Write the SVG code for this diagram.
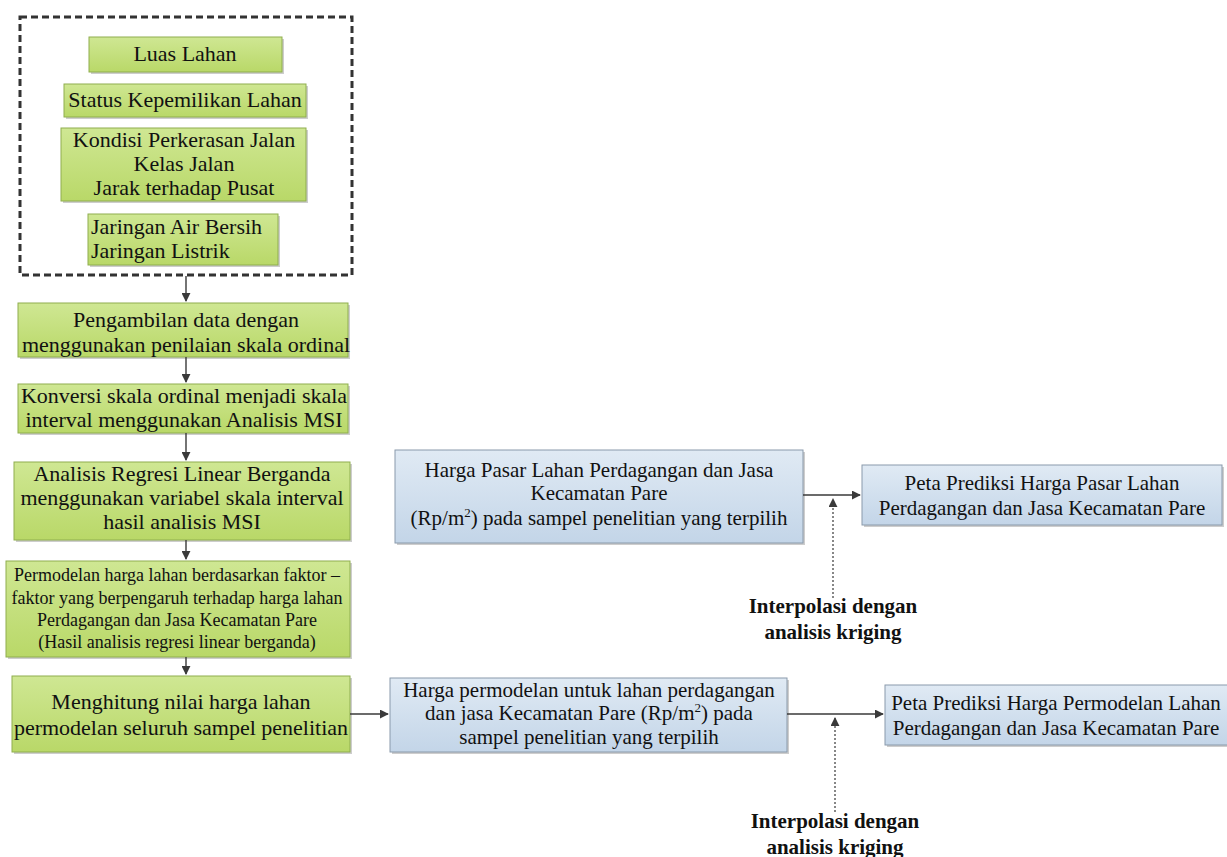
<svg xmlns="http://www.w3.org/2000/svg" width="1227" height="857" viewBox="0 0 1227 857">
<defs>
<linearGradient id="gG" x1="0" y1="0" x2="0" y2="1">
<stop offset="0" stop-color="#cfe793"/>
<stop offset="1" stop-color="#b9d868"/>
</linearGradient>
<linearGradient id="gB" x1="0" y1="0" x2="0" y2="1">
<stop offset="0" stop-color="#e0eaf4"/>
<stop offset="1" stop-color="#c3d5e8"/>
</linearGradient>
<marker id="ah" viewBox="0 0 10 10" refX="9" refY="5" markerWidth="9" markerHeight="9" markerUnits="userSpaceOnUse" orient="auto">
<path d="M0,0 L10,5 L0,10 z" fill="#3a3a3a"/>
</marker>
<style>
.g{fill:url(#gG);stroke:#8fae4f;stroke-width:1}
.b{fill:url(#gB);stroke:#8a9aab;stroke-width:1}
.sh{fill:#b8b8b8;opacity:0.7}
.t{font-family:"Liberation Serif","Times New Roman",serif;fill:#111;text-anchor:middle}
.tl{font-family:"Liberation Serif","Times New Roman",serif;fill:#111;text-anchor:start}
.bold{font-family:"Liberation Serif","Times New Roman",serif;font-weight:bold;fill:#111;text-anchor:middle;font-size:21px}
.c{stroke:#3a3a3a;stroke-width:1.4;fill:none}
.d{stroke:#555;stroke-width:1.4;fill:none;stroke-dasharray:2 2}
</style>
</defs>
<rect width="1227" height="857" fill="#ffffff"/>

<g id="factors">
<rect x="20" y="17" width="332" height="258" fill="none" stroke="#333" stroke-width="3" stroke-dasharray="7 4"/>
</g>

<g id="n-luas">
<rect class="sh" x="91" y="39" width="193" height="35"/>
<rect class="g" x="89" y="37" width="193" height="35"/>
<text class="t" x="185" y="61" font-size="22">Luas Lahan</text>
</g>
<g id="n-status">
<rect class="sh" x="66" y="86" width="242" height="33"/>
<rect class="g" x="64" y="84" width="242" height="33"/>
<text class="t" x="185" y="107" font-size="22">Status Kepemilikan Lahan</text>
</g>
<g id="n-kondisi">
<rect class="sh" x="63" y="130" width="245" height="73"/>
<rect class="g" x="61" y="128" width="245" height="73"/>
<text class="t" x="184" y="147" font-size="22">Kondisi Perkerasan Jalan</text>
<text class="t" x="184" y="171" font-size="22">Kelas Jalan</text>
<text class="t" x="184" y="195" font-size="22">Jarak terhadap Pusat</text>
</g>
<g id="n-jaringan">
<rect class="sh" x="90" y="216" width="190" height="51"/>
<rect class="g" x="88" y="214" width="190" height="51"/>
<text class="tl" x="91" y="234" font-size="22">Jaringan Air Bersih</text>
<text class="tl" x="91" y="258" font-size="22">Jaringan Listrik</text>
</g>

<g id="n-pengambilan">
<rect class="sh" x="20" y="305" width="330" height="54"/>
<rect class="g" x="18" y="303" width="330" height="54"/>
<text class="t" x="186" y="327" font-size="22">Pengambilan data dengan</text>
<text class="t" x="186" y="352" font-size="22">menggunakan penilaian skala ordinal</text>
</g>
<g id="n-konversi">
<rect class="sh" x="20" y="386" width="330" height="49"/>
<rect class="g" x="18" y="384" width="330" height="49"/>
<text class="t" x="184" y="403" font-size="22">Konversi skala ordinal menjadi skala</text>
<text class="t" x="184" y="427" font-size="22">interval menggunakan Analisis MSI</text>
</g>
<g id="n-analisis">
<rect class="sh" x="16" y="464" width="336" height="78"/>
<rect class="g" x="14" y="462" width="336" height="78"/>
<text class="t" x="182" y="481" font-size="22">Analisis Regresi Linear Berganda</text>
<text class="t" x="182" y="505" font-size="22">menggunakan variabel skala interval</text>
<text class="t" x="182" y="529" font-size="22">hasil analisis MSI</text>
</g>
<g id="n-permodelan">
<rect class="sh" x="8" y="563" width="344" height="96"/>
<rect class="g" x="6" y="561" width="344" height="96"/>
<text class="t" x="177" y="581" font-size="18">Permodelan harga lahan berdasarkan faktor –</text>
<text class="t" x="177" y="604" font-size="18">faktor yang berpengaruh terhadap harga lahan</text>
<text class="t" x="177" y="626" font-size="18">Perdagangan dan Jasa Kecamatan Pare</text>
<text class="t" x="177" y="648" font-size="18">(Hasil analisis regresi linear berganda)</text>
</g>
<g id="n-menghitung">
<rect class="sh" x="14" y="678" width="338" height="76"/>
<rect class="g" x="12" y="676" width="338" height="76"/>
<text class="t" x="181" y="709" font-size="22">Menghitung nilai harga lahan</text>
<text class="t" x="181" y="735" font-size="22">permodelan seluruh sampel penelitian</text>
</g>

<g id="n-hargapasar">
<rect class="sh" x="397" y="452" width="408" height="93"/>
<rect class="b" x="395" y="450" width="408" height="93"/>
<text class="t" x="599" y="477" font-size="21">Harga Pasar Lahan Perdagangan dan Jasa</text>
<text class="t" x="599" y="500" font-size="21">Kecamatan Pare</text>
<text class="t" x="599" y="525" font-size="21">(Rp/m<tspan font-size="13" dy="-8">2</tspan><tspan dy="8">) pada sampel penelitian yang terpilih</tspan></text>
</g>
<g id="n-petapasar">
<rect class="sh" x="864" y="467" width="360" height="60"/>
<rect class="b" x="862" y="465" width="360" height="60"/>
<text class="t" x="1042" y="490" font-size="21">Peta Prediksi Harga Pasar Lahan</text>
<text class="t" x="1042" y="515" font-size="21">Perdagangan dan Jasa Kecamatan Pare</text>
</g>
<g id="n-hargamodel">
<rect class="sh" x="392" y="680" width="397" height="74"/>
<rect class="b" x="390" y="678" width="397" height="74"/>
<text class="t" x="589" y="697" font-size="21">Harga permodelan untuk lahan perdagangan</text>
<text class="t" x="589" y="720" font-size="21">dan jasa Kecamatan Pare (Rp/m<tspan font-size="13" dy="-8">2</tspan><tspan dy="8">) pada</tspan></text>
<text class="t" x="589" y="744" font-size="21">sampel penelitian yang terpilih</text>
</g>
<g id="n-petamodel">
<rect class="sh" x="887" y="687" width="342" height="60"/>
<rect class="b" x="885" y="685" width="344" height="60"/>
<text class="t" x="1056" y="710" font-size="21">Peta Prediksi Harga Permodelan Lahan</text>
<text class="t" x="1056" y="735" font-size="21">Perdagangan dan Jasa Kecamatan Pare</text>
</g>

<g id="label-kriging-1">
<text class="bold" x="833" y="613">Interpolasi dengan</text>
<text class="bold" x="833" y="639">analisis kriging</text>
</g>
<g id="label-kriging-2">
<text class="bold" x="835" y="828">Interpolasi dengan</text>
<text class="bold" x="835" y="854">analisis kriging</text>
</g>

<g id="connectors">
<line class="c" x1="186" y1="276" x2="186" y2="301" marker-end="url(#ah)"/>
<line class="c" x1="186" y1="357" x2="186" y2="382" marker-end="url(#ah)"/>
<line class="c" x1="186" y1="433" x2="186" y2="460" marker-end="url(#ah)"/>
<line class="c" x1="186" y1="540" x2="186" y2="559" marker-end="url(#ah)"/>
<line class="c" x1="186" y1="657" x2="186" y2="674" marker-end="url(#ah)"/>
<line class="c" x1="350" y1="714" x2="388" y2="714" marker-end="url(#ah)"/>
<line class="c" x1="803" y1="495" x2="860" y2="495" marker-end="url(#ah)"/>
<line class="c" x1="787" y1="714" x2="883" y2="714" marker-end="url(#ah)"/>
<line class="d" x1="833" y1="598" x2="833" y2="499" marker-end="url(#ah)"/>
<line class="d" x1="835" y1="812" x2="835" y2="718" marker-end="url(#ah)"/>
</g>
</svg>
